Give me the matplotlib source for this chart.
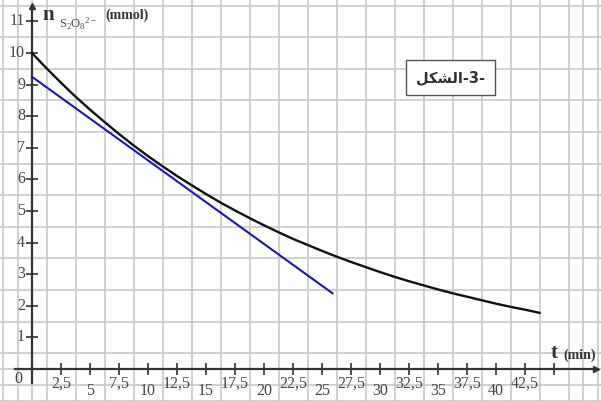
import matplotlib
matplotlib.use("Agg")
import matplotlib.pyplot as plt
from matplotlib.ticker import MultipleLocator

# ---------------------------------------------------------------------------
# Data
# ---------------------------------------------------------------------------
t_curve = [0, 1.25, 2.5, 3.75, 5, 6.25, 7.5, 8.75, 10, 11.25, 12.5, 13.75,
           15, 16.25, 17.5, 18.75, 20, 21.25, 22.5, 23.75, 25, 26.25, 27.5,
           28.75, 30, 31.25, 32.5, 33.75, 35, 36.25, 37.5, 38.75, 40, 41.25,
           42.5, 43.75]
n_curve = [10.0, 9.52, 9.06, 8.62, 8.21, 7.82, 7.44, 7.08, 6.74, 6.42, 6.11,
           5.82, 5.54, 5.27, 5.02, 4.78, 4.55, 4.33, 4.12, 3.93, 3.74, 3.56,
           3.39, 3.23, 3.07, 2.92, 2.78, 2.65, 2.52, 2.40, 2.29, 2.18, 2.07,
           1.97, 1.88, 1.78]

t_tangent = [0, 25.9]
n_tangent = [9.25, 2.4]

x_ticks = [2.5, 5, 7.5, 10, 12.5, 15, 17.5, 20, 22.5, 25, 27.5, 30,
           32.5, 35, 37.5, 40, 42.5, 45]
x_labels = ["2,5", "5", "7,5", "10", "12,5", "15", "17,5", "20", "22,5",
            "25", "27,5", "30", "32,5", "35", "37,5", "40", "42,5", ""]
y_ticks = [1, 2, 3, 4, 5, 6, 7, 8, 9, 10, 11]

# Arabic caption written in visual (left-to-right) order with presentation forms
fig_label = "\uFEDE\uFEDC\uFEB8\uFEDF\uFE8D" + "-3-"

AXIS_COLOR = "#333333"
LABEL_COLOR = "#444444"
GRID_COLOR = "#c4c4c4"
SERIF = "Liberation Serif"

fig = plt.figure(figsize=(6.01, 4.01), dpi=100)
ax = fig.add_axes([0, 0, 1, 1])
ax.set_xlim(-2.76, 49.05)
ax.set_ylim(-1.01, 11.68)

# grid paper
ax.xaxis.set_minor_locator(MultipleLocator(1.25))
ax.yaxis.set_minor_locator(MultipleLocator(0.5))
ax.grid(True, which="minor", color=GRID_COLOR, linewidth=1.1)
ax.set_axisbelow(True)

# axes through the origin
for side in ("top", "right"):
    ax.spines[side].set_visible(False)
ax.spines["left"].set_position(("data", 0))
ax.spines["bottom"].set_position(("data", 0))
ax.spines["left"].set_bounds(-0.45, 11.5)
ax.spines["bottom"].set_bounds(-1.5, 48.6)
for side in ("left", "bottom"):
    ax.spines[side].set_color(AXIS_COLOR)
    ax.spines[side].set_linewidth(1.6)
    ax.spines[side].set_zorder(3)
ax.plot(48.6, 0, ">", color=AXIS_COLOR, markersize=5, clip_on=False, zorder=4)
ax.plot(0, 11.5, "^", color=AXIS_COLOR, markersize=5, clip_on=False, zorder=4)

ax.set_xticks(x_ticks)
ax.set_yticks(y_ticks)
ax.tick_params(which="major", direction="inout", length=8, width=1.2,
               color=AXIS_COLOR, labelbottom=False, labelleft=False)
ax.tick_params(which="minor", length=0)

# tick labels (staggered on x)
for x, lab in zip(x_ticks, x_labels):
    y = -0.47 if "," in lab else -0.68
    ax.text(x, y, lab, ha="center", va="center", fontsize=11.5,
            family=SERIF, color=LABEL_COLOR)
for y in y_ticks:
    ax.text(-0.6, y, str(y), ha="right", va="center", fontsize=11.5,
            family=SERIF, color=LABEL_COLOR)
ax.text(-1.2, -0.3, "0", ha="center", va="center", fontsize=11.5,
        family=SERIF, color=LABEL_COLOR)

# curves
ax.plot(t_curve, n_curve, color="#111111", linewidth=1.7, zorder=5)
ax.plot(t_tangent, n_tangent, color="#1818b4", linewidth=1.5, zorder=6)

# axis titles
ax.text(1.4, 11.22, "n", ha="center", va="center", fontsize=15,
        family=SERIF, fontweight="bold", color=AXIS_COLOR)
ax.text(2.3, 10.92, r"$\mathregular{S_2O_8{}^{2-}}$", ha="left", va="center",
        fontsize=9, family=SERIF, color=LABEL_COLOR)
ax.text(6.3, 11.2, "(mmol)", ha="left", va="center", fontsize=10,
        family=SERIF, fontweight="bold", color=AXIS_COLOR)
ax.text(45.0, 0.5, "t", ha="center", va="center", fontsize=15,
        family=SERIF, fontweight="bold", color=AXIS_COLOR)
ax.text(45.8, 0.45, "(min)", ha="left", va="center", fontsize=10,
        family=SERIF, fontweight="bold", color=AXIS_COLOR)

# figure caption box
ax.text(36.1, 9.22, fig_label, ha="center", va="center", fontsize=10.5,
        family="DejaVu Sans", fontweight="bold", color="#333333", zorder=7,
        bbox=dict(boxstyle="square,pad=0.7", facecolor="white",
                  edgecolor="#555555", linewidth=1.0))

fig.savefig("out.png", dpi=100)
plt.close(fig)
